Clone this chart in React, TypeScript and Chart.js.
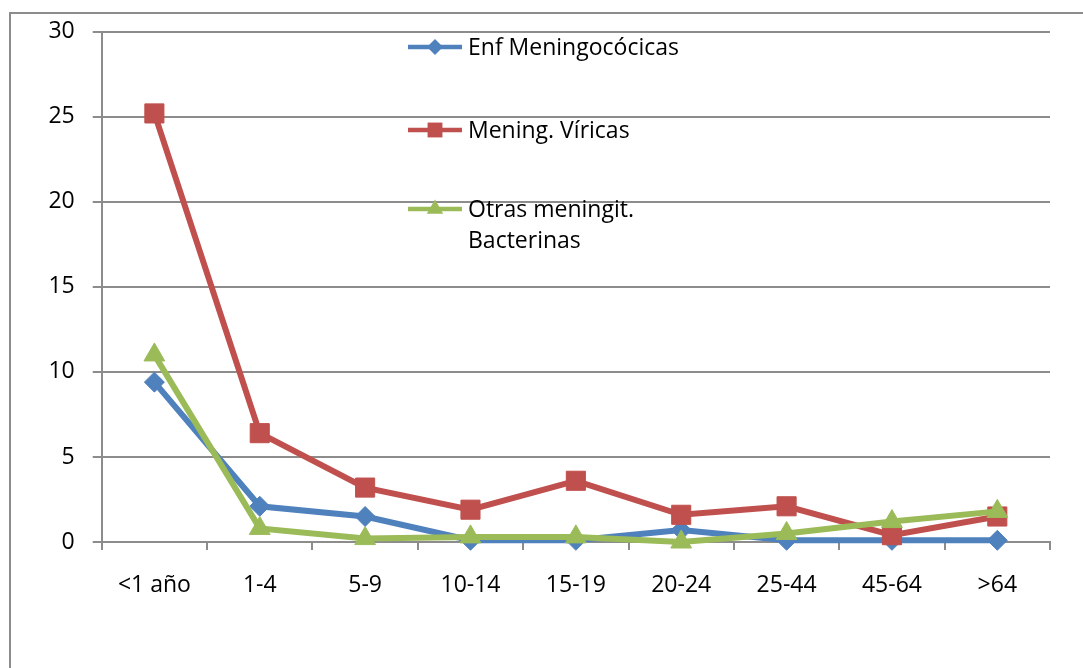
import React, { useEffect, useRef } from "react";
import { Chart, registerables } from "chart.js";

Chart.register(...registerables);

const categories = ["<1 año", "1-4", "5-9", "10-14", "15-19", "20-24", "25-44", "45-64", ">64"];
const meningococicas = [9.4, 2.1, 1.5, 0.1, 0.1, 0.7, 0.1, 0.1, 0.1];
const viricas = [25.2, 6.4, 3.2, 1.9, 3.6, 1.6, 2.1, 0.4, 1.5];
const otras = [11.0, 0.8, 0.2, 0.3, 0.3, 0.0, 0.5, 1.2, 1.8];
const seriesNames = ["Enf Meningocócicas", "Mening. Víricas", "Otras meningit. Bacterinas"];
const legendLines = [["Enf Meningocócicas"], ["Mening. Víricas"], ["Otras meningit.", "Bacterinas"]];
const yMin = 0;
const yMax = 30;
const yStep = 5;

const BLUE = "#4F81BD";
const RED = "#C0504D";
const GREEN = "#9BBB59";
const GRID = "#8c8c8c";
const FONT = { family: "'Open Sans'", size: 23 };

function drawMarker(ctx: CanvasRenderingContext2D, style: string, x: number, y: number, r: number, color: string) {
  ctx.save();
  ctx.fillStyle = color;
  ctx.beginPath();
  if (style === "rectRot") {
    ctx.moveTo(x - r, y);
    ctx.lineTo(x, y - r);
    ctx.lineTo(x + r, y);
    ctx.lineTo(x, y + r);
    ctx.closePath();
  } else if (style === "rect") {
    const s = r * Math.SQRT1_2;
    ctx.rect(x - s, y - s, 2 * s, 2 * s);
  } else {
    const h = r;
    ctx.moveTo(x, y - h);
    ctx.lineTo(x + h * 0.866, y + h * 0.5);
    ctx.lineTo(x - h * 0.866, y + h * 0.5);
    ctx.closePath();
  }
  ctx.fill();
  ctx.restore();
}

const framePlugin = {
  id: "frame",
  beforeDraw(chart: any) {
    const ctx = chart.ctx as CanvasRenderingContext2D;
    ctx.save();
    ctx.strokeStyle = GRID;
    ctx.lineWidth = 2;
    ctx.strokeRect(10, 13, 3000, 3000);
    ctx.restore();
  },
};

const legendPlugin = {
  id: "customLegend",
  afterDraw(chart: any) {
    const ctx = chart.ctx as CanvasRenderingContext2D;
    const items = [
      { color: BLUE, style: "rectRot", r: 8, y: 47 },
      { color: RED, style: "rect", r: 10.5, y: 130 },
      { color: GREEN, style: "triangle", r: 9.5, y: 209 },
    ];
    items.forEach((it, i) => {
      ctx.save();
      ctx.strokeStyle = it.color;
      ctx.lineWidth = 4.5;
      ctx.beginPath();
      ctx.moveTo(408, it.y);
      ctx.lineTo(462, it.y);
      ctx.stroke();
      ctx.restore();
      drawMarker(ctx, it.style, 435, it.y, it.r, it.color);
      ctx.save();
      ctx.fillStyle = "#000";
      ctx.font = `${FONT.size}px ${FONT.family}`;
      ctx.textBaseline = "middle";
      ctx.textAlign = "left";
      legendLines[i].forEach((line, j) => {
        ctx.fillText(line, 468, it.y + 1 + j * 31);
      });
      ctx.restore();
    });
  },
};

export default function App() {
  const ref = useRef<HTMLCanvasElement>(null);
  useEffect(() => {
    if (!ref.current) return;
    const chart = new Chart(ref.current, {
      type: "line",
      data: {
        labels: categories,
        datasets: [
          {
            label: seriesNames[0],
            data: meningococicas,
            borderColor: BLUE,
            backgroundColor: BLUE,
            borderWidth: 6,
            pointStyle: "rectRot",
            pointRadius: 10,
            pointBorderWidth: 1,
            pointBackgroundColor: BLUE,
            pointBorderColor: BLUE,
            order: 3,
            clip: false,
            tension: 0,
          },
          {
            label: seriesNames[1],
            data: viricas,
            borderColor: RED,
            backgroundColor: RED,
            borderWidth: 6,
            pointStyle: "rect",
            pointRadius: 13.5,
            pointBorderWidth: 1,
            pointBackgroundColor: RED,
            pointBorderColor: RED,
            order: 2,
            clip: false,
            tension: 0,
          },
          {
            label: seriesNames[2],
            data: otras,
            borderColor: GREEN,
            backgroundColor: GREEN,
            borderWidth: 6,
            pointStyle: "triangle",
            pointRadius: 12,
            pointBorderWidth: 1,
            pointBackgroundColor: GREEN,
            pointBorderColor: GREEN,
            order: 1,
            clip: false,
            tension: 0,
          },
        ],
      },
      options: {
        responsive: false,
        animation: false,
        layout: { padding: { left: 0, top: 31.7, right: 33, bottom: 0 } },
        plugins: {
          legend: { display: false },
          tooltip: { enabled: false },
        },
        scales: {
          x: {
            offset: true,
            grid: {
              offset: true,
              drawOnChartArea: false,
              drawTicks: true,
              tickLength: 8,
              color: GRID,
              lineWidth: 2,
            },
            border: { color: GRID, width: 2 },
            ticks: { color: "#000", font: FONT, padding: 22, maxRotation: 0, autoSkip: false },
            afterFit(s: any) {
              s.height = 126;
            },
          },
          y: {
            min: yMin,
            max: yMax,
            grid: { color: GRID, lineWidth: 2, tickLength: 9, drawTicks: true },
            border: { color: GRID, width: 2 },
            ticks: { stepSize: yStep, color: "#000", font: FONT, padding: 18 },
            afterFit(s: any) {
              s.width = 101.7;
            },
          },
        },
      },
      plugins: [framePlugin, legendPlugin],
    });
    return () => chart.destroy();
  }, []);
  return (
    <div style={{ position: "absolute", left: 0, top: 0, width: 1083, height: 668, background: "#fff" }}>
      <canvas ref={ref} width={1083} height={668} />
    </div>
  );
}
